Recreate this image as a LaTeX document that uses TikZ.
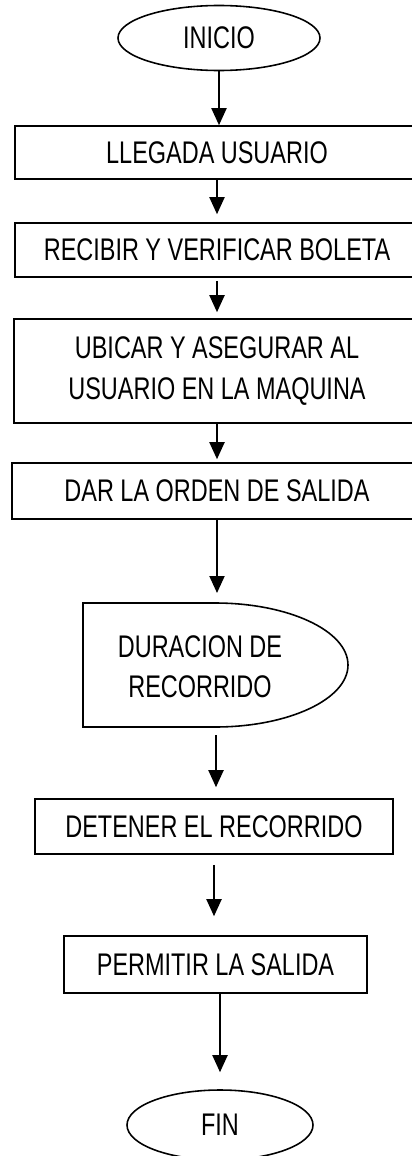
\documentclass[tikz,border=0pt]{standalone}
\usepackage{fontspec}
\setmainfont{Liberation Sans}[FakeStretch=0.75]
\usetikzlibrary{arrows.meta,positioning,shapes.geometric}
\tikzset{
    box/.style={draw,line width=0.9pt,align=center,inner sep=0pt},
    term/.style={ellipse,draw,line width=0.9pt,inner sep=0pt},
    arrow/.style={-{Triangle[length=3.4mm,width=3mm]},line width=1.1pt}
}

\begin{document}
\begin{tikzpicture}[every node/.style={font=\fontsize{17.8}{23}\selectfont}]
    \useasboundingbox (0,0) rectangle (8.24,-23.12);
    \clip (0,0) rectangle (8.24,-23.12);
    % terminals and process boxes
    \node[term,minimum width=4.04cm,minimum height=1.3cm] (inicio) at (4.38,-0.76) {INICIO};
    \node[box,minimum width=8.08cm,minimum height=1.06cm] (llegada) at (4.34,-3.05) {LLEGADA USUARIO};
    \node[box,minimum width=8.08cm,minimum height=1.08cm] (recibir) at (4.34,-5.0) {RECIBIR Y VERIFICAR BOLETA};
    \node[box,minimum width=8.12cm,minimum height=2.08cm] (ubicar) at (4.34,-7.42) {UBICAR Y ASEGURAR AL\\USUARIO EN LA MAQUINA};
    \node[box,minimum width=8.2cm,minimum height=1.12cm] (orden) at (4.34,-9.82) {DAR LA ORDEN DE SALIDA};
    % delay symbol
    \draw[line width=0.9pt] (1.66,-12.06) -- (4.3,-12.06) arc[start angle=90,end angle=-90,x radius=2.66cm,y radius=1.24cm] -- (1.66,-14.54) -- cycle;
    \node[align=center] (duracion) at (4.0,-13.34) {DURACION DE\\RECORRIDO};
    \coordinate (durtop) at (4.32,-12.06);
    \coordinate (durbot) at (4.32,-14.54);
    \node[box,minimum width=7.16cm,minimum height=1.1cm] (detener) at (4.28,-16.53) {DETENER EL RECORRIDO};
    \node[box,minimum width=6.06cm,minimum height=1.14cm] (permitir) at (4.31,-19.29) {PERMITIR LA SALIDA};
    \node[term,minimum width=3.72cm,minimum height=1.4cm] (fin) at (4.4,-22.5) {FIN};
    % connectors
    \draw[arrow] (inicio.south) -- (inicio.south |- llegada.north);
    \draw[arrow,shorten >=0.16cm] (llegada.south) -- (llegada.south |- recibir.north);
    \draw[arrow,shorten <=0.06cm,shorten >=0.12cm] (recibir.south) -- (recibir.south |- ubicar.north);
    \draw[arrow,shorten >=0.06cm] (ubicar.south) -- (ubicar.south |- orden.north);
    \draw[arrow,shorten >=0.2cm] (orden.south) -- (orden.south |- durtop);
    \draw[arrow,shorten <=0.16cm,shorten >=0.22cm] (durbot) -- (durbot |- detener.north);
    \draw[arrow,shorten <=0.2cm,shorten >=0.38cm] (detener.south) -- (detener.south |- permitir.north);
    \draw[arrow,shorten >=0.34cm] (fin.north |- permitir.south) -- (fin.north);
\end{tikzpicture}
\end{document}
